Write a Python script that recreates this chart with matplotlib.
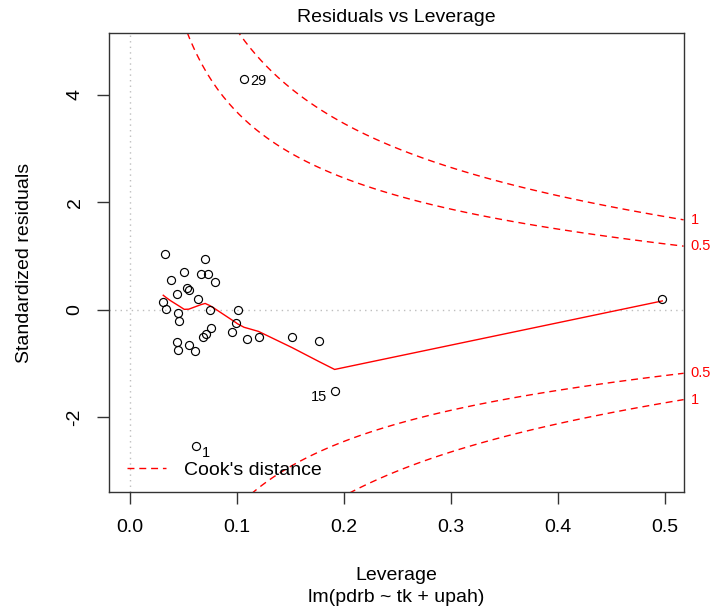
import numpy as np
import matplotlib
matplotlib.use("Agg")
import matplotlib.pyplot as plt

# ---- data ----
leverage = [0.0327, 0.0703, 0.0507, 0.0663, 0.0728, 0.0383, 0.0791, 0.0535,
            0.0554, 0.0436, 0.0632, 0.0311, 0.0336, 0.0747, 0.1006, 0.0451,
            0.0460, 0.0987, 0.0754, 0.0710, 0.0679, 0.0955, 0.1099, 0.1202,
            0.0436, 0.0551, 0.0445, 0.0607, 0.1515, 0.1767, 0.1914, 0.1067,
            0.0613, 0.4979]
std_resid = [1.030, 0.937, 0.706, 0.669, 0.669, 0.552, 0.515, 0.409,
             0.366, 0.292, 0.199, 0.138, 0.019, 0.000, 0.000, -0.056,
             -0.216, -0.242, -0.335, -0.446, -0.509, -0.420, -0.550, -0.507,
             -0.606, -0.651, -0.749, -0.768, -0.507, -0.587, -1.506, 4.283,
             -2.533, 0.199]
point_ids = [None] * 30 + ["15", "29", "1", None]
cook_levels = [0.5, 1.0]
n_coef = 3
xticks = [0.0, 0.1, 0.2, 0.3, 0.4, 0.5]
yticks = [-2, 0, 2, 4]
title = "Residuals vs Leverage"
xlabel = "Leverage"
subtitle = "lm(pdrb ~ tk + upah)"
ylabel = "Standardized residuals"
legend_label = "Cook's distance"


def _lowest(x, y, n, xs, nleft, nright, userw, rw):
    rng = x[n - 1] - x[0]
    h = max(xs - x[nleft], x[nright] - xs)
    h9, h1 = 0.999 * h, 0.001 * h
    w = np.zeros(n)
    a = 0.0
    j = nleft
    while j < n:
        r = abs(x[j] - xs)
        if r <= h9:
            w[j] = 1.0 if r <= h1 else (1 - (r / h) ** 3) ** 3
            if userw:
                w[j] *= rw[j]
            a += w[j]
        elif x[j] > xs:
            break
        j += 1
    nrt = j - 1
    if a <= 0:
        return 0.0, False
    sl = slice(nleft, nrt + 1)
    w[sl] /= a
    if h > 0:
        a = np.sum(w[sl] * x[sl])
        b = xs - a
        c = np.sum(w[sl] * (x[sl] - a) ** 2)
        if np.sqrt(c) > 0.001 * rng:
            b /= c
            w[sl] *= (b * (x[sl] - a) + 1.0)
    return float(np.sum(w[sl] * y[sl])), True


def lowess(x, y, f=2 / 3, nsteps=3):
    order = np.argsort(x, kind="stable")
    x = np.asarray(x, float)[order]
    y = np.asarray(y, float)[order]
    n = len(x)
    delta = 0.01 * (x[-1] - x[0])
    ns = max(min(int(f * n + 1e-7), n), 2)
    ys = np.zeros(n)
    rw = np.ones(n)
    it = 1
    while it <= nsteps + 1:
        nleft, nright, last, i = 0, ns - 1, -1, 0
        while True:
            if nright < n - 1:
                d1 = x[i] - x[nleft]
                d2 = x[nright + 1] - x[i]
                if d1 > d2:
                    nleft += 1
                    nright += 1
                    continue
            v, ok = _lowest(x, y, n, x[i], nleft, nright, it > 1, rw)
            ys[i] = v if ok else y[i]
            if last < i - 1:
                denom = x[i] - x[last]
                for j in range(last + 1, i):
                    al = (x[j] - x[last]) / denom
                    ys[j] = al * ys[i] + (1 - al) * ys[last]
            last = i
            cut = x[last] + delta
            i = last + 1
            while i < n:
                if x[i] > cut:
                    break
                if x[i] == x[last]:
                    ys[i] = ys[last]
                    last = i
                i += 1
            i = max(last + 1, i - 1)
            if last >= n - 1:
                break
        res = y - ys
        sc = np.sum(np.abs(res)) / n
        if it > nsteps:
            break
        r = np.abs(res)
        rs = np.sort(r)
        m1 = n // 2
        cmad = 3 * (rs[m1] + rs[m1 - 1]) if n % 2 == 0 else 6 * rs[m1]
        if cmad < 1e-7 * sc:
            break
        c9, c1 = 0.999 * cmad, 0.001 * cmad
        rw = np.where(r <= c1, 1.0, np.where(r <= c9, (1 - (r / cmad) ** 2) ** 2, 0.0))
        it += 1
    return x, ys


lev = np.array(leverage)
res = np.array(std_resid)

# R-style axis ranges
x_lo, x_hi = 0.0, lev.max()
dx = (x_hi - x_lo) * 0.04
xlim = (x_lo - dx, x_hi + dx)
y_lo, y_hi = res.min(), res.max()
e = (y_hi - y_lo) * 0.08
y_lo, y_hi = y_lo - e, y_hi + e
dy = (y_hi - y_lo) * 0.04
ylim = (y_lo - dy, y_hi + dy)

plt.rcParams["font.family"] = ["Liberation Sans", "DejaVu Sans"]
FS = 14

W, H = 712, 612
fig = plt.figure(figsize=(W / 100, H / 100), dpi=100)
L, R, T, B = 108.7, 683.6, 33.0, 492.3
ax = fig.add_axes([L / W, 1 - B / H, (R - L) / W, (B - T) / H])
ax.set_xlim(*xlim)
ax.set_ylim(*ylim)

ax.axhline(0, color="#bebebe", lw=1.0, ls=(0, (1, 3)), zorder=1)
ax.axvline(0, color="#bebebe", lw=1.0, ls=(0, (1, 3)), zorder=1)

# Cook's distance contours
hh = np.linspace(min(lev.min(), lev.max() / 100), xlim[1], 101)
for c in cook_levels:
    cl = np.sqrt(c * n_coef * (1 - hh) / hh)
    ax.plot(hh, cl, color="red", lw=1.0, ls=(0, (5, 3.5)), zorder=2)
    ax.plot(hh, -cl, color="red", lw=1.0, ls=(0, (5, 3.5)), zorder=2)

# smooth
sx, sy = lowess(lev, res)
ax.plot(sx, sy, color="red", lw=1.0, zorder=3)

ax.plot(lev, res, "o", mfc="none", mec="black", mew=0.85, ms=5.8, zorder=4)

for xi, yi, lab in zip(lev, res, point_ids):
    if lab is None:
        continue
    if lab == "15":
        ax.annotate(lab, (xi, yi), xytext=(-5.3, -7.4), textcoords="offset points",
                    ha="right", va="baseline", fontsize=FS * 0.75)
    elif lab == "29":
        ax.annotate(lab, (xi, yi), xytext=(4.6, -3.9), textcoords="offset points",
                    ha="left", va="baseline", fontsize=FS * 0.75)
    else:
        ax.annotate(lab, (xi, yi), xytext=(4.5, -7.7), textcoords="offset points",
                    ha="left", va="baseline", fontsize=FS * 0.75)

# right-hand Cook's labels
xmax = min(0.99, xlim[1])
for c in cook_levels:
    aty = np.sqrt(c * n_coef * (1 - xmax) / xmax)
    for s in (1, -1):
        ax.text(1.0 + 7 / (R - L), s * aty, f"{c:g}", transform=ax.get_yaxis_transform(),
                color="red", fontsize=FS * 0.75, ha="left", va="center",
                clip_on=False)

ax.set_xticks(xticks)
ax.set_xticklabels([f"{t:.1f}" for t in xticks])
ax.set_yticks(yticks)
ax.set_yticklabels([str(t) for t in yticks], rotation=90, va="center")
ax.tick_params(axis="both", direction="out", length=8.6, width=1.0,
               labelsize=FS, color="#333333")
ax.tick_params(axis="x", pad=10.5)
ax.tick_params(axis="y", pad=9.5)
for sp in ax.spines.values():
    sp.set_color("#333333")
    sp.set_linewidth(1.0)

ax.legend([plt.Line2D([0], [0], color="red", lw=1.0, ls=(0, (5, 3.5)))],
          [legend_label], loc="center left",
          bbox_to_anchor=((127 - L) / (R - L), (B - 470) / (B - T)),
          frameon=False, fontsize=FS, borderaxespad=0, borderpad=0,
          handlelength=2.0, handletextpad=0.95)

fig.text((L + R) / 2 / W, 1 - 17 / H, title, ha="center", va="center", fontsize=FS)
fig.text((L + R) / 2 / W, 1 - 575 / H, xlabel, ha="center", va="center", fontsize=FS)
fig.text((L + R) / 2 / W, 1 - 597 / H, subtitle, ha="center", va="center", fontsize=FS)
fig.text(25 / W, 1 - ((T + B) / 2) / H, ylabel, ha="center", va="center",
         rotation=90, fontsize=FS)

fig.savefig("out.png", dpi=100)
